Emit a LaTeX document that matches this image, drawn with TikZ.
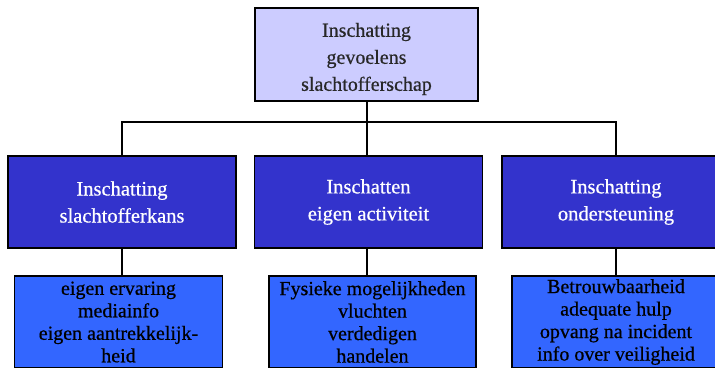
\documentclass[tikz,border=0pt]{standalone}
\usepackage{fontspec}
\setmainfont{Liberation Serif}[FakeBold=0.6]
\definecolor{topfill}{RGB}{204,204,255}
\definecolor{midfill}{RGB}{51,51,204}
\definecolor{botfill}{RGB}{51,102,255}
\definecolor{toptext}{RGB}{40,40,40}
\newcommand{\lowertext}[1]{\raisebox{-4pt}[\height][\depth]{\begin{tabular}{@{}c@{}}#1\end{tabular}}}
\begin{document}
\begin{tikzpicture}[x=1pt,y=1pt,
  box/.style={draw=black, line width=1.5pt, rectangle, align=center, inner sep=0pt},
  topbox/.style={box, fill=topfill, text=toptext, minimum width=223pt, minimum height=93pt, font=\fontsize{20}{26.5}\selectfont},
  midbox/.style={box, fill=midfill, text=white, minimum width=228pt, minimum height=92pt, font=\fontsize{20.5}{27}\selectfont},
  botbox/.style={box, fill=botfill, text=black, minimum width=208pt, minimum height=92pt, font=\fontsize{20}{22.5}\selectfont},
  conn/.style={draw=black, line width=1.1pt}
]
\useasboundingbox (0,0) rectangle (715,-367);
\node[topbox] (top) at (366.5,-54.5) {\lowertext{Inschatting\\[0.5pt]gevoelens\\[0.5pt]slachtofferschap}};
\node[midbox] (m1) at (122,-202) {Inschatting\\slachtofferkans};
\node[midbox] (m2) at (368.5,-202) {Inschatten\\eigen activiteit};
\node[midbox] (m3) at (616,-202) {Inschatting\\ondersteuning};
\node[botbox] (b1) at (118.5,-322) {eigen ervaring\\mediainfo\\eigen aantrekkelijk-\\heid};
\node[botbox, minimum width=207pt] (b2) at (372.5,-322) {Fysieke mogelijkheden\\vluchten\\verdedigen\\handelen};
\node[botbox] (b3) at (616,-322) {Betrouwbaarheid\\adequate hulp\\opvang na incident\\info over veiligheid};
\coordinate (h) at (367,-122);
\draw[conn] (h |- top.south) -- (h);
\draw[conn] (m1.north) |- (h) -| (m3.north);
\draw[conn] (h) -- (h |- m2.north);
\draw[conn] (m1.south) -- (m1.south |- b1.north);
\draw[conn] (h |- m2.south) -- (h |- b2.north);
\draw[conn] (m3.south) -- (b3.north);
\end{tikzpicture}
\end{document}
